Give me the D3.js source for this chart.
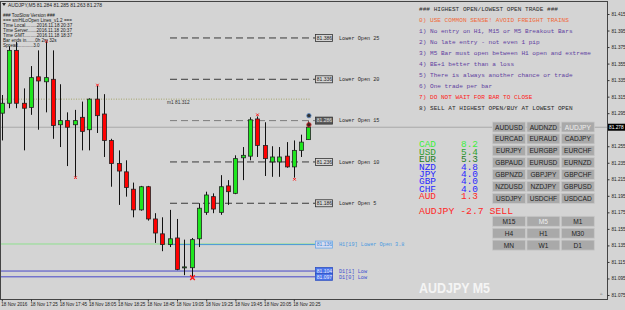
<!DOCTYPE html>
<html>
<head>
<meta charset="utf-8">
<script src="https://cdn.jsdelivr.net/npm/d3@7"></script>
<style>
  body { margin: 0; background: #d4d4d4; }
  svg { display: block; font-family: "Liberation Sans", Arial, sans-serif; }
  .mono { font-family: "Liberation Mono", "DejaVu Sans Mono", monospace; }
</style>
</head>
<body>
<div id="chart"></div>
<script>
const W = 625, H = 310;
const frame = { left: 0, top: 1, right: 607, bottom: 299 };

// candles, 5 minute bars from 18 Nov 17:05
const opens  = [81.295, 81.307, 81.371, 81.307, 81.302, 81.339, 81.333, 81.336, 81.281, 81.286, 81.281, 81.290, 81.275, 81.312, 81.294, 81.262, 81.234, 81.224, 81.203, 81.178, 81.206, 81.167, 81.149, 81.136, 81.144, 81.108, 81.108, 81.143, 81.175, 81.194, 81.175, 81.207, 81.198, 81.241, 81.243, 81.288, 81.256, 81.236, 81.236, 81.243, 81.230, 81.250, 81.263];
const highs  = [81.317, 81.376, 81.381, 81.325, 81.352, 81.371, 81.381, 81.371, 81.330, 81.296, 81.299, 81.309, 81.313, 81.328, 81.318, 81.264, 81.250, 81.238, 81.211, 81.207, 81.207, 81.174, 81.169, 81.178, 81.167, 81.142, 81.144, 81.186, 81.200, 81.198, 81.220, 81.214, 81.244, 81.254, 81.290, 81.291, 81.284, 81.255, 81.254, 81.260, 81.262, 81.269, 81.285];
const lows   = [81.262, 81.301, 81.301, 81.250, 81.293, 81.275, 81.296, 81.264, 81.254, 81.231, 81.218, 81.250, 81.250, 81.271, 81.242, 81.206, 81.184, 81.194, 81.169, 81.177, 81.165, 81.138, 81.128, 81.133, 81.105, 81.099, 81.097, 81.133, 81.172, 81.174, 81.172, 81.184, 81.197, 81.214, 81.238, 81.242, 81.219, 81.218, 81.218, 81.229, 81.217, 81.242, 81.263];
const closes = [81.307, 81.371, 81.307, 81.301, 81.338, 81.334, 81.338, 81.280, 81.286, 81.278, 81.286, 81.273, 81.312, 81.292, 81.262, 81.234, 81.225, 81.205, 81.178, 81.206, 81.167, 81.150, 81.136, 81.143, 81.106, 81.109, 81.142, 81.180, 81.196, 81.179, 81.206, 81.200, 81.240, 81.244, 81.287, 81.256, 81.240, 81.242, 81.242, 81.230, 81.250, 81.260, 81.278];

const timeLabels = ["18 Nov 2016", "18 Nov 17:25", "18 Nov 17:45", "18 Nov 18:05", "18 Nov 18:25", "18 Nov 18:45", "18 Nov 19:05", "18 Nov 19:25", "18 Nov 19:45", "18 Nov 20:05", "18 Nov 20:25"];
const timeBars = [0, 4, 8, 12, 16, 20, 24, 28, 32, 36, 40];
// 81.275 sits under the last price tag
const priceTicks = [81.415, 81.395, 81.375, 81.355, 81.335, 81.315, 81.295, 81.255, 81.235, 81.215, 81.195, 81.175, 81.155, 81.135, 81.115, 81.095, 81.075];
const lastPrice = 81.278;

// fractal marks: bar, price
const upMarks = [[6, 81.382], [13, 81.329], [35, 81.293]];
const downMarks = [[10, 81.217], [40, 81.215]];
const bigMark = [26, 81.096];

// lower open ladder
const ladderNames = ["Lower Open 25", "Lower Open 20", "Lower Open 15", "Lower Open 10", "Lower Open 5"];
const ladderPrices = [81.386, 81.336, 81.286, 81.236, 81.186];
const h1Name = "H1[19] Lower Open 3.8", h1Price = 81.136;
const d1Names = ["D1[1] Low", "D1[0] Low"];
const d1Prices = [81.104, 81.097];
const m1Price = 81.312;

const infoLines = ["### TooSlow Version ###", "=== smHiLoOpen Lines_v1.2 ===", "Time Local.........2016.11.18 20:37", "Time Server.......2016.11.18 20:37", "Time GMT..........2016.11.18 18:37", "Bar ends in.......0h 2m 32s", "Spread............3.0"];

const rules = ["### HIGHEST OPEN/LOWEST OPEN TRADE ###", "0) USE COMMON SENSE!  AVOID FREIGHT TRAINS", "1) No entry on H1, M15 or M5 Breakout Bars", "2) No late entry - not even 1 pip", "3) M5 Bar must open between H1 open and extreme", "4) BE+1 better than a loss", "5) There is always another chance or trade", "6) One trade per bar", "7) DO NOT WAIT FOR BAR TO CLOSE", "8) SELL AT HIGHEST OPEN/BUY AT LOWEST OPEN"];
const ruleColours = ["#2a2a2a", "#f06a3a", "#6040a0", "#6040a0", "#6040a0", "#6040a0", "#6040a0", "#6040a0", "#ff2020", "#2a2a2a"];

const currencies = ["CAD", "USD", "EUR", "NZD", "JPY", "GBP", "CHF", "AUD"];
const strengths = ["8.2", "5.4", "5.3", "4.8", "4.0", "4.0", "4.0", "1.3"];
const currencyColours = ["#3cf03c", "#2ea02e", "#1e7e1e", "#2828ff", "#2828ff", "#2828ff", "#2828ff", "#ff2828"];

const pairs = ["AUDUSD", "AUDNZD", "AUDJPY", "EURCAD", "EURAUD", "CADJPY", "EURJPY", "EURGBP", "EURCHF", "GBPAUD", "EURUSD", "EURNZD", "GBPNZD", "GBPJPY", "GBPCHF", "NZDUSD", "NZDJPY", "GBPUSD", "USDJPY", "USDCHF", "USDCAD"];
const periods = ["M15", "M5", "M1", "H4", "H1", "M30", "MN", "W1", "D1"];

const svg = d3.select("#chart").append("svg").attr("width", W).attr("height", H);

const x = d3.scaleLinear().domain([0, 42]).range([1.8, 308.4]);
const y = d3.scaleLinear().domain([81.075, 81.415]).range([295, 14]);

// frame
svg.append("rect")
	.attr("x", frame.left + 0.5).attr("y", frame.top + 0.5)
	.attr("width", frame.right - frame.left).attr("height", frame.bottom - frame.top)
	.attr("fill", "#d4d4d4").attr("stroke", "#444");

// price axis
const yAxis = svg.append("g")
	.attr("transform", `translate(${frame.right + 0.5},0)`)
	.call(d3.axisRight(y).tickValues(priceTicks).tickSize(2).tickPadding(2).tickFormat(d3.format(".3f")));
yAxis.select(".domain").remove();
yAxis.selectAll("line").attr("stroke", "#333");
yAxis.selectAll("text").attr("font-size", 4.6).attr("fill", "#222").style("font-family", null);

// time axis
const xAxis = svg.append("g")
	.attr("transform", `translate(0,${frame.bottom + 0.5})`)
	.call(d3.axisBottom(x).tickValues(timeBars).tickSize(2).tickPadding(1)
		.tickFormat((d, i) => timeLabels[i]));
xAxis.select(".domain").remove();
xAxis.selectAll("line").attr("stroke", "#333");
xAxis.selectAll("text").attr("font-size", 4.6).attr("fill", "#222").attr("text-anchor", "start").attr("dx", -1);

// bid line
svg.append("line")
	.attr("x1", 1).attr("x2", frame.right)
	.attr("y1", y(lastPrice)).attr("y2", y(lastPrice))
	.attr("stroke", "#a8a8a8").attr("stroke-width", 1);

// m1 dotted line
svg.append("line")
	.attr("x1", 1).attr("x2", 311)
	.attr("y1", y(m1Price)).attr("y2", y(m1Price))
	.attr("stroke", "#a4a468").attr("stroke-dasharray", "1,1.5");
svg.append("text").attr("x", 167).attr("y", y(m1Price) + 4.5)
	.attr("font-size", 4.8).attr("fill", "#333").text("m1  " + m1Price.toFixed(3));

// ladder lines
const boxX = 315, boxW = 17, boxH = 7;
function add_level(price, name, lineX1, lineStyle, box, label) {
	svg.append("line")
		.attr("x1", lineX1).attr("x2", boxX)
		.attr("y1", y(price)).attr("y2", y(price))
		.attr("stroke", lineStyle.stroke).attr("stroke-width", lineStyle.width)
		.attr("stroke-dasharray", lineStyle.dash);
	svg.append("rect")
		.attr("x", boxX + 0.5).attr("y", y(price) - boxH / 2)
		.attr("width", boxW).attr("height", boxH)
		.attr("fill", box.fill).attr("stroke", box.stroke).attr("stroke-width", 0.8);
	svg.append("text")
		.attr("x", boxX + 1 + boxW / 2).attr("y", y(price) + 1.8)
		.attr("text-anchor", "middle").attr("font-size", 5).attr("fill", box.text)
		.text(price.toFixed(3));
	svg.append("text")
		.attr("class", "mono")
		.attr("x", 339).attr("y", y(price) + 1.8)
		.attr("font-size", 5.2).attr("fill", label)
		.text(name);
}

ladderNames.forEach((n, i) => {
	const mid = i === 2;
	add_level(ladderPrices[i], n, 170,
		{ stroke: mid ? "#7c7c7c" : "#3a3a3a", width: 1, dash: "7,4" },
		{ fill: mid ? "#5a5a5a" : "#d4d4d4", stroke: "#333", text: mid ? "#e0e0e0" : "#222" },
		"#2a2a2a");
});

svg.append("line")
	.attr("x1", 1).attr("x2", boxX)
	.attr("y1", y(h1Price) - 0.6).attr("y2", y(h1Price) - 0.6)
	.attr("stroke", "#8ee08e").attr("stroke-width", 1);
add_level(h1Price, h1Name, 168,
	{ stroke: "#4a9ad8", width: 1, dash: null },
	{ fill: "#d6dcf0", stroke: "#6aa8e8", text: "#3a86d6" }, "#4a9ae0");

d1Names.forEach((n, i) => {
	add_level(d1Prices[i], n, 1,
		{ stroke: "#4848c8", width: 1, dash: null },
		{ fill: "#4a74ea", stroke: "#3050c0", text: "#f0f0ff" }, "#3c50d0");
});

// candles
const bars = d3.range(opens.length);
const candles = svg.append("g");
candles.selectAll("line")
	.data(bars)
	.join("line")
	.attr("x1", (i) => Math.round(x(i)) + 0.5).attr("x2", (i) => Math.round(x(i)) + 0.5)
	.attr("y1", (i) => y(highs[i])).attr("y2", (i) => y(lows[i]))
	.attr("stroke", "#111").attr("stroke-width", 1);
candles.selectAll("rect")
	.data(bars)
	.join("rect")
	.attr("x", (i) => Math.round(x(i)) - 1.5)
	.attr("y", (i) => y(Math.max(opens[i], closes[i])))
	.attr("width", 4)
	.attr("height", (i) => Math.max(1, Math.abs(y(opens[i]) - y(closes[i]))))
	.attr("fill", (i) => (closes[i] >= opens[i] ? "#1ee61e" : "#ff0000"))
	.attr("stroke", "#222").attr("stroke-width", 0.8);

// marks
function cross(cx, cy, s, w) {
	svg.append("path")
		.attr("d", `M${cx - s},${cy - s}L${cx + s},${cy + s}M${cx + s},${cy - s}L${cx - s},${cy + s}`)
		.attr("stroke", "#ff1a1a").attr("stroke-width", w);
}
upMarks.concat(downMarks).forEach((m) => cross(Math.round(x(m[0])) + 0.5, y(m[1]), 1.3, 1));
cross(Math.round(x(bigMark[0])) + 0.5, y(bigMark[1]), 2.3, 1.4);

svg.append("circle").attr("cx", x(42) + 0.5).attr("cy", y(81.292)).attr("r", 2.2)
	.attr("fill", "#333").attr("stroke", "#5a8ac8").attr("stroke-width", 0.8);
svg.append("circle").attr("cx", x(42) + 0.5).attr("cy", y(81.281)).attr("r", 2.2)
	.attr("fill", "#402020").attr("stroke", "#d03030").attr("stroke-width", 0.8);

// current price tag
svg.append("rect").attr("x", 608).attr("y", y(lastPrice) - 3.5).attr("width", 17).attr("height", 7).attr("fill", "#000");
svg.append("text").attr("x", 609).attr("y", y(lastPrice) + 1.8).attr("font-size", 4.8).attr("fill", "#fff")
	.text(lastPrice.toFixed(3));

// title
svg.append("path").attr("d", "M2,3L6,3L4,6Z").attr("fill", "#222");
svg.append("text").attr("x", 8).attr("y", 7).attr("font-size", 5).attr("fill", "#222")
	.text("AUDJPY,M5  81.284 81.285 81.263 81.278");

svg.append("g").selectAll("text")
	.data(infoLines)
	.join("text")
	.attr("x", 3).attr("y", (d, i) => 17.2 + i * 5)
	.attr("font-size", 4.6).attr("fill", "#1a1a1a")
	.text((d) => d);

// rules panel
svg.append("g").selectAll("text")
	.data(rules)
	.join("text")
	.attr("class", "mono")
	.attr("x", 419).attr("y", (d, i) => 11.4 + i * 10.92)
	.attr("font-size", 6.1)
	.attr("fill", (d, i) => ruleColours[i])
	.text((d) => d);

// currency strength
const strength = svg.append("g");
strength.selectAll("text.cur")
	.data(currencies)
	.join("text")
	.attr("class", "cur mono")
	.attr("x", 419).attr("y", (d, i) => 147.3 + i * 7.4)
	.attr("font-size", 8.2)
	.attr("textLength", 17).attr("lengthAdjust", "spacingAndGlyphs")
	.attr("fill", (d, i) => currencyColours[i])
	.text((d) => d);
strength.selectAll("text.val")
	.data(strengths)
	.join("text")
	.attr("class", "val mono")
	.attr("x", 461).attr("y", (d, i) => 147.3 + i * 7.4)
	.attr("font-size", 8.2)
	.attr("textLength", 17).attr("lengthAdjust", "spacingAndGlyphs")
	.attr("fill", (d, i) => currencyColours[i])
	.text((d) => d);
svg.append("text").attr("class", "mono").attr("x", 419).attr("y", 213.5)
	.attr("font-size", 9.8)
	.attr("fill", "#ff2828").text("AUDJPY -2.7 SELL");

// buttons
function button_grid(labels, top, selected) {
	const g = svg.append("g");
	labels.forEach((lab, i) => {
		const bx = 492 + (i % 3) * 34.4, by = top + Math.floor(i / 3) * 11.9;
		g.append("rect").attr("x", bx + 0.5).attr("y", by + 0.5).attr("width", 33).attr("height", 10)
			.attr("fill", "#a9a9a9").attr("stroke", "#c8c8c8").attr("stroke-width", 0.8);
		g.append("text").attr("x", bx + 17).attr("y", by + 8)
			.attr("text-anchor", "middle").attr("font-size", 6.6)
			.attr("fill", lab === selected ? "#eeeeee" : "#1e1e1e").text(lab);
	});
}
button_grid(pairs, 121.5, "AUDJPY");
button_grid(periods, 215.8, "M5");

svg.append("text").attr("x", 419).attr("y", 293)
	.attr("font-size", 15).attr("font-weight", "bold")
	.attr("textLength", 71).attr("lengthAdjust", "spacingAndGlyphs")
	.attr("fill", "#f4f4f4").text("AUDJPY M5");

svg.append("text").attr("x", 600).attr("y", 295).attr("font-size", 4).attr("fill", "#444").text("⌂");
</script>
</body>
</html>
